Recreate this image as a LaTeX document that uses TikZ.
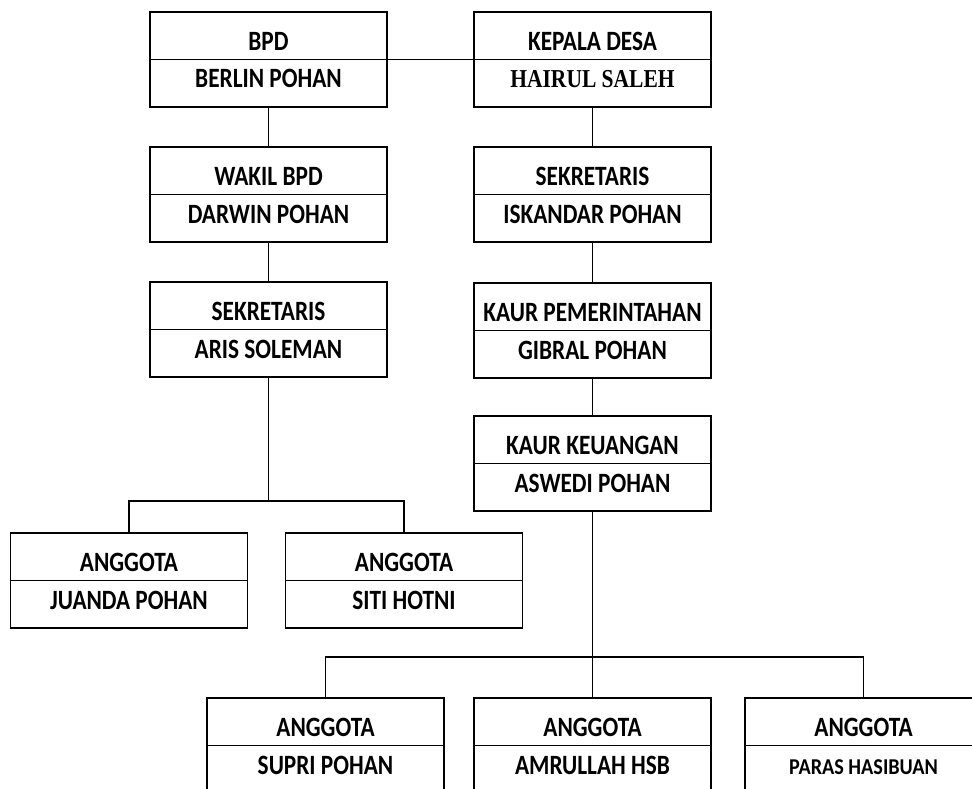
\documentclass[tikz,border=0pt]{standalone}
\usepackage{fontspec}
\setmainfont{Carlito}
\newfontfamily\serifbold{Liberation Serif}
\usetikzlibrary{positioning,calc}

\newcommand{\tegak}[1]{\scalebox{1}[1.2]{#1}} % taller letters as in the scan

\tikzset{
  kotak/.style={draw, line width=1.8pt, minimum width=237pt,
    inner sep=0pt, outer sep=0pt, font=\fontsize{23.3}{25}\selectfont\bfseries},
  judul/.style={kotak, text height=38.5pt, text depth=9pt},
  nama/.style={kotak, text height=28.5pt, text depth=19pt},
  garis/.style={line width=1.8pt}
}

\begin{document}
\begin{tikzpicture}[x=1pt,y=-1pt]
  \useasboundingbox (0,0) rectangle (972,789);
  \def\kanan{592.5} % x of the desa column

  % BPD side
  \node[judul] (bpd) at (268.5,35.75) {\tegak{BPD}};
  \node[nama, below=0pt of bpd] (bpdn) {\tegak{BERLIN POHAN}};
  \node[judul] (wakil) at (268.5,170.75) {\tegak{WAKIL BPD}};
  \node[nama, below=0pt of wakil] (wakiln) {\tegak{DARWIN POHAN}};
  \node[judul] (sekl) at (268.5,305.75) {\tegak{SEKRETARIS}};
  \node[nama, below=0pt of sekl] (sekln) {\tegak{ARIS SOLEMAN}};

  % desa side
  \node[judul] (kades) at (\kanan,35.75) {\tegak{KEPALA DESA}};
  \node[nama, below=0pt of kades, font=\fontsize{21.5}{23}\serifbold\bfseries] (kadesn) {\tegak{HAIRUL SALEH}};
  \node[judul] (sekr) at (\kanan,170.75) {\tegak{SEKRETARIS}};
  \node[nama, below=0pt of sekr] (sekrn) {\tegak{ISKANDAR POHAN}};
  \node[judul] (kaurp) at (\kanan,306.75) {\tegak{KAUR PEMERINTAHAN}};
  \node[nama, below=0pt of kaurp] (kaurpn) {\tegak{GIBRAL POHAN}};
  \node[judul] (kaurk) at (\kanan,439.75) {\tegak{KAUR KEUANGAN}};
  \node[nama, below=0pt of kaurk] (kaurkn) {\tegak{ASWEDI POHAN}};

  % anggota BPD
  \node[judul] (juanda) at (129,556.75) {\tegak{ANGGOTA}};
  \node[nama, below=0pt of juanda] (juandan) {\tegak{JUANDA POHAN}};
  \node[judul] (siti) at (404,556.75) {\tegak{ANGGOTA}};
  \node[nama, below=0pt of siti] (sitin) {\tegak{SITI HOTNI}};

  % anggota desa
  \node[judul] (supri) at (325.5,721.75) {\tegak{ANGGOTA}};
  \node[nama, below=0pt of supri] (suprin) {\tegak{SUPRI POHAN}};
  \node[judul] (amrul) at (\kanan,721.75) {\tegak{ANGGOTA}};
  \node[nama, below=0pt of amrul] (amruln) {\tegak{AMRULLAH HSB}};
  \node[judul] (paras) at (863.5,721.75) {\tegak{ANGGOTA}};
  \node[nama, below=0pt of paras, font=\fontsize{20.2}{22}\selectfont\bfseries] (parasn) {\scalebox{1}[1.12]{PARAS HASIBUAN}};

  \coordinate (busl) at (268.5,501);
  \coordinate (busr) at (\kanan,657);

  \draw[garis] (bpd.south east) -- (kades.south west);
  \draw[garis] (bpdn.south) -- (wakil.north);
  \draw[garis] (wakiln.south) -- (sekl.north);
  \draw[garis] (sekln.south) -- (busl);
  \draw[garis] (juanda.north) |- (busl) -| (siti.north);

  \draw[garis] (kadesn.south) -- (sekr.north);
  \draw[garis] (sekrn.south) -- (kaurp.north);
  \draw[garis] (kaurpn.south) -- (kaurk.north);
  \draw[garis] (kaurkn.south) -- (busr);
  \draw[garis] (supri.north) |- (busr) -| (paras.north);
  \draw[garis] (busr) -- (amrul.north);

\end{tikzpicture}
\end{document}
